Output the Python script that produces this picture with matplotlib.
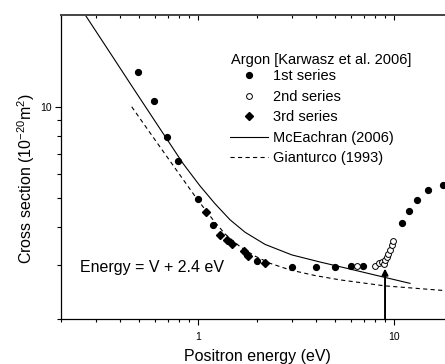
import numpy as np
import matplotlib
matplotlib.use('Agg')
import matplotlib.pyplot as plt
from matplotlib.ticker import NullFormatter

plt.rcParams['font.family'] = ['Liberation Sans', 'DejaVu Sans']
plt.rcParams['mathtext.fontset'] = 'custom'
plt.rcParams['mathtext.rm'] = 'Liberation Sans'
plt.rcParams['mathtext.it'] = 'Liberation Sans:italic'
plt.rcParams['lines.scale_dashes'] = False

# ---- data ----
s1_x = [0.496, 0.596, 0.697, 0.793, 0.996, 1.197, 1.993, 3.01, 4.0, 5.0, 6.01, 6.97,
        10.98, 11.97, 13.05, 14.96, 17.84]
s1_y = [13.0, 10.4, 7.93, 6.61, 4.96, 4.08, 3.11, 2.97, 2.97, 2.97, 2.98, 2.98,
        4.15, 4.54, 4.92, 5.32, 5.51]

s2_x = [6.50, 7.97, 8.41, 8.65, 8.89, 9.0, 9.18, 9.35, 9.54, 9.73, 9.92]
s2_y = [2.98, 2.98, 3.05, 3.09, 3.03, 3.12, 3.20, 3.28, 3.37, 3.50, 3.62]

s3_x = [1.10, 1.295, 1.40, 1.496, 1.717, 1.805, 2.197]
s3_y = [4.50, 3.77, 3.63, 3.53, 3.35, 3.23, 3.05]

mc_x = [0.266, 0.356, 0.477, 0.640, 0.841, 1.024, 1.221, 1.457, 1.737, 2.197, 3.01,
        4.19, 5.96, 9.0, 12.07]
mc_y = [20.0, 15.02, 11.26, 8.45, 6.48, 5.48, 4.79, 4.24, 3.86, 3.52, 3.25,
        3.08, 2.92, 2.74, 2.62]

gi_x = [0.459, 0.618, 0.826, 0.996, 1.193, 1.373, 1.638, 1.954, 2.33, 2.95, 3.95,
        5.30, 9.0, 18.2]
gi_y = [9.98, 7.60, 5.84, 4.93, 4.24, 3.81, 3.46, 3.22, 3.05, 2.90, 2.78,
        2.69, 2.57, 2.48]

threshold_x = 9.0
arrow_tip_y = 2.93

x_major = [1, 10]
x_major_labels = ['1', '10']
x_minor = [0.2, 0.3, 0.4, 0.5, 0.6, 0.7, 0.8, 0.9, 2, 3, 4, 5, 6, 7, 8, 9, 20]
y_major = [10]
y_major_labels = ['10']
y_minor = [2, 3, 4, 5, 6, 7, 8, 9]

legend_title = 'Argon [Karwasz et al. 2006]'
labels = ['1st series', '2nd series', '3rd series', 'McEachran (2006)', 'Gianturco (1993)']

# ---- figure ----
fig = plt.figure(figsize=(4.45, 3.64), dpi=100)
ax = fig.add_axes([61/445, 45/364, 392/445, 304/364])
ax.set_xscale('log')
ax.set_yscale('log')
ax.set_xlim(0.2, 20)
ax.set_ylim(2, 20)

ax.plot(mc_x, mc_y, '-', color='black', lw=0.8, label=labels[3], zorder=2)
gl, = ax.plot(gi_x, gi_y, '--', color='black', lw=0.8, label=labels[4], zorder=2)
gl.set_dashes((3.0, 2.4))
ax.plot(s1_x, s1_y, 'o', color='black', ms=4.2, label=labels[0], zorder=3)
ax.plot(s2_x, s2_y, 'o', mfc='white', mec='black', mew=0.7, ms=4.2, label=labels[1], zorder=3)
ax.plot(s3_x, s3_y, 'D', color='black', ms=3.6, label=labels[2], zorder=3)

ax.annotate('', xy=(threshold_x, arrow_tip_y), xytext=(threshold_x, 2.0),
            arrowprops=dict(arrowstyle='-|>', color='black', lw=1.4,
                            mutation_scale=9, shrinkA=0, shrinkB=0), zorder=4)

ax.set_xticks(x_major)
ax.set_xticklabels(x_major_labels)
ax.set_xticks(x_minor, minor=True)
ax.xaxis.set_minor_formatter(NullFormatter())
ax.set_yticks(y_major)
ax.set_yticklabels(y_major_labels)
ax.set_yticks(y_minor, minor=True)
ax.yaxis.set_minor_formatter(NullFormatter())

ax.tick_params(axis='x', which='major', direction='out', length=4.3, width=0.8,
               labelsize=7.5, pad=5, top=False)
ax.tick_params(axis='x', which='minor', direction='out', length=2.2, width=0.8, top=False)
ax.tick_params(axis='y', which='major', direction='out', length=4.3, width=0.8,
               labelsize=7.5, pad=2, right=False)
ax.tick_params(axis='y', which='minor', direction='out', length=2.9, width=0.8, right=False)

for s in ['top', 'right']:
    ax.spines[s].set_visible(False)
for s in ['left', 'bottom']:
    ax.spines[s].set_linewidth(0.9)
    ax.spines[s].set_color('black')

ax2 = ax.twiny()
ax2.set_xscale('log')
ax2.set_xlim(0.2, 20)
ax2.set_xticks(x_major)
ax2.set_xticks(x_minor, minor=True)
ax2.xaxis.set_major_formatter(NullFormatter())
ax2.xaxis.set_minor_formatter(NullFormatter())
ax2.tick_params(axis='x', which='major', direction='in', length=3.6, width=0.8, labeltop=False)
ax2.tick_params(axis='x', which='minor', direction='in', length=2.2, width=0.8, labeltop=False)
for s in ['left', 'right', 'bottom']:
    ax2.spines[s].set_visible(False)
ax2.spines['top'].set_color('#444444')
ax2.spines['top'].set_linewidth(1.4)

ax.set_xlabel('Positron energy (eV)', fontsize=11.5)
ax.xaxis.set_label_coords(0.5, -0.100)
ax.set_ylabel('Cross section (10$^{\\mathregular{-20}}$m$^{\\mathregular{2}}$)', fontsize=11.5)
ax.yaxis.set_label_coords(-0.060, 0.46)

ax.text(0.0485, 0.168, 'Energy = V + 2.4 eV', transform=ax.transAxes,
        fontsize=11.5, ha='left', va='center')

ax.text(0.433, 0.876, legend_title, transform=ax.transAxes, fontsize=10.5,
        ha='left', va='top')
handles, lbls = ax.get_legend_handles_labels()
order = [lbls.index(l) for l in labels]
leg = ax.legend([handles[i] for i in order], [lbls[i] for i in order],
                loc='upper left', bbox_to_anchor=(0.431, 0.821), frameon=False,
                fontsize=10.5, borderpad=0, borderaxespad=0, handlelength=2.6,
                handletextpad=0.32, labelspacing=0.445, numpoints=1)

fig.savefig('out.png', dpi=100)
